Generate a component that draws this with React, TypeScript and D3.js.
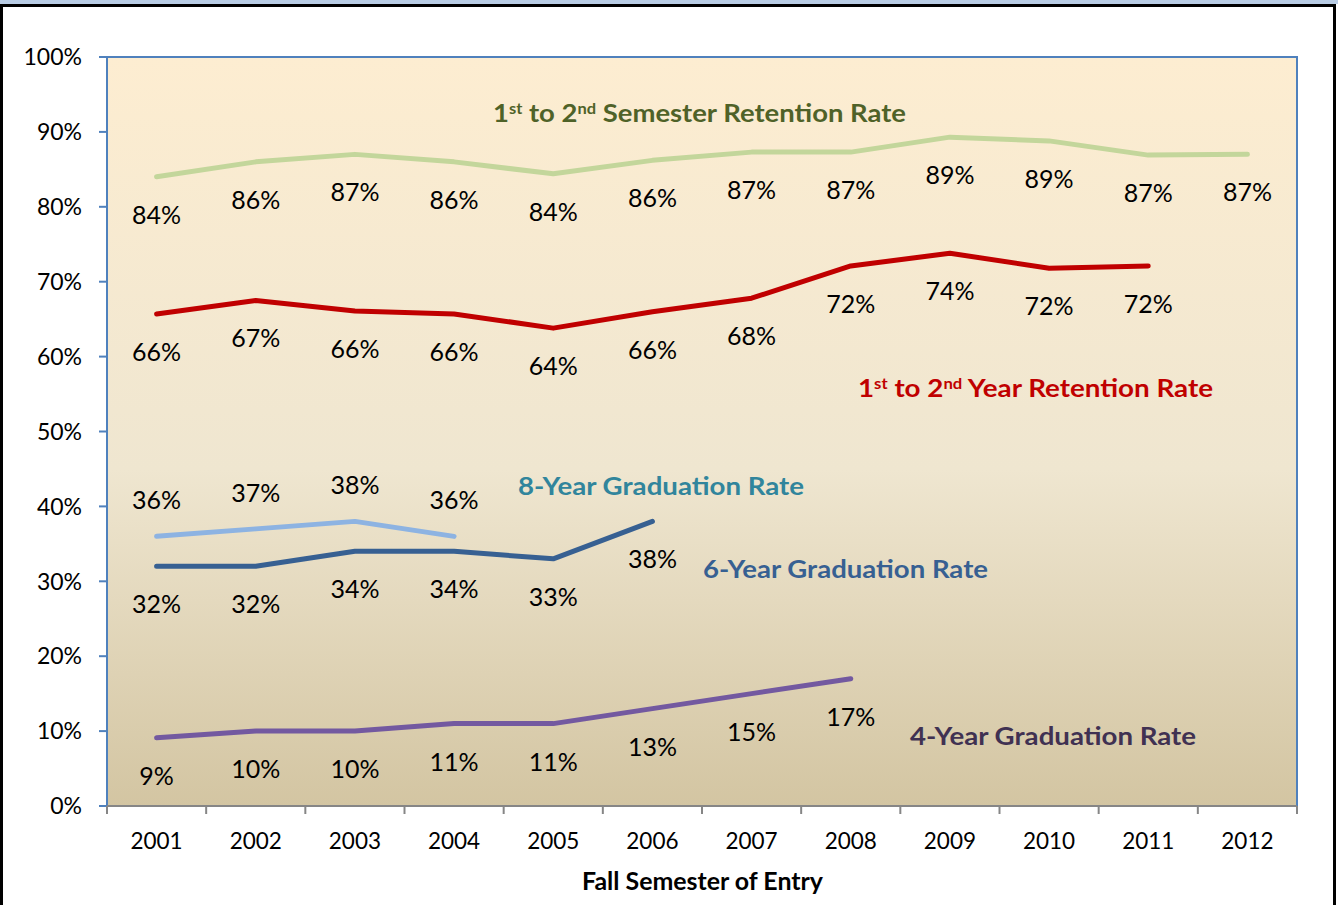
import React, { useEffect, useRef } from 'react';
import * as d3 from 'd3';

const years = ['2001', '2002', '2003', '2004', '2005', '2006', '2007', '2008', '2009', '2010', '2011', '2012'];
const yTicks = [0, 10, 20, 30, 40, 50, 60, 70, 80, 90, 100];

// values (%), null = no data
const semesterRetention = [84.0, 86.0, 87.0, 86.0, 84.4, 86.2, 87.3, 87.3, 89.3, 88.8, 86.9, 87.0];
const semesterLabels = ['84%', '86%', '87%', '86%', '84%', '86%', '87%', '87%', '89%', '89%', '87%', '87%'];
const yearRetention = [65.7, 67.5, 66.1, 65.7, 63.8, 66.0, 67.8, 72.1, 73.8, 71.8, 72.1, null];
const yearLabels = ['66%', '67%', '66%', '66%', '64%', '66%', '68%', '72%', '74%', '72%', '72%', null];
const grad8 = [36.0, 37.0, 38.0, 36.0, null, null, null, null, null, null, null, null];
const grad8Labels = ['36%', '37%', '38%', '36%', null, null, null, null, null, null, null, null];
const grad6 = [32.0, 32.0, 34.0, 34.0, 33.0, 38.0, null, null, null, null, null, null];
const grad6Labels = ['32%', '32%', '34%', '34%', '33%', '38%', null, null, null, null, null, null];
const grad4 = [9.1, 10.0, 10.0, 11.0, 11.0, 13.0, 15.0, 17.0, null, null, null, null];
const grad4Labels = ['9%', '10%', '10%', '11%', '11%', '13%', '15%', '17%', null, null, null, null];

interface Series {
   values: (number | null)[];
   labels: (string | null)[];
   color: string;
   labelOffset: number; // px from point to label centre
}

const series: Series[] = [
   { values: semesterRetention, labels: semesterLabels, color: '#c3d69b', labelOffset: 38 },
   { values: yearRetention, labels: yearLabels, color: '#c00000', labelOffset: 38 },
   { values: grad8, labels: grad8Labels, color: '#8db3e2', labelOffset: -36 },
   { values: grad6, labels: grad6Labels, color: '#376092', labelOffset: 38 },
   { values: grad4, labels: grad4Labels, color: '#7359a0', labelOffset: 38 },
];

const FONT = 'Lato, "Open Sans", sans-serif';

const App: React.FC = () => {
   const svgRef = useRef<SVGSVGElement | null>(null);
   const width = 1338;
   const height = 905;

   useEffect(() => {
      if (!svgRef.current) return;
      const svg = d3.select(svgRef.current);
      svg.selectAll('*').remove();

      const margin = { top: 57, right: 41, bottom: 99, left: 107 };
      const innerWidth = width - margin.left - margin.right;
      const innerHeight = height - margin.top - margin.bottom;

      // outer frame
      svg.append('rect').attr('width', width).attr('height', height).attr('fill', '#ffffff');
      svg.append('rect').attr('x', 0).attr('y', 0).attr('width', width).attr('height', 4).attr('fill', '#b8cce4');
      svg.append('path')
         .attr('d', `M1.5,${height} V5.5 H${width - 3.5} V${height}`)
         .attr('fill', 'none')
         .attr('stroke', '#000')
         .attr('stroke-width', 3);

      const defs = svg.append('defs');
      const bg = defs.append('linearGradient')
         .attr('id', 'plot-bg')
         .attr('x1', 0).attr('y1', 0).attr('x2', 0).attr('y2', 1);
      bg.append('stop').attr('offset', '0%').attr('stop-color', '#fdedd1');
      bg.append('stop').attr('offset', '55%').attr('stop-color', '#efe6d0');
      bg.append('stop').attr('offset', '100%').attr('stop-color', '#d3c5a2');

      const x = d3.scaleBand().domain(years).range([0, innerWidth]);
      const y = d3.scaleLinear().domain([0, 100]).range([innerHeight, 0]);

      const g = svg.append('g').attr('transform', `translate(${margin.left},${margin.top})`);

      g.append('rect')
         .attr('width', innerWidth)
         .attr('height', innerHeight)
         .attr('fill', 'url(#plot-bg)');

      // top & right border
      g.append('path')
         .attr('d', `M0,0 H${innerWidth} V${innerHeight}`)
         .attr('fill', 'none')
         .attr('stroke', '#4f81bd')
         .attr('stroke-width', 2);

      // y axis
      const yAxis = g.append('g');
      yAxis.append('line')
         .attr('x1', 0).attr('x2', 0).attr('y1', 0).attr('y2', innerHeight)
         .attr('stroke', '#4f81bd').attr('stroke-width', 2);
      yAxis.selectAll('.ytick')
         .data(yTicks)
         .enter()
         .append('line')
         .attr('x1', -8).attr('x2', 0)
         .attr('y1', d => y(d)).attr('y2', d => y(d))
         .attr('stroke', '#4f81bd').attr('stroke-width', 2);
      yAxis.selectAll('.ylab')
         .data(yTicks)
         .enter()
         .append('text')
         .attr('x', -25)
         .attr('y', d => y(d))
         .attr('dy', '0.36em')
         .attr('text-anchor', 'end')
         .attr('font-family', FONT)
         .attr('font-size', 23)
         .attr('fill', '#000')
         .text(d => `${d}%`);

      // x axis
      const xAxis = g.append('g').attr('transform', `translate(0,${innerHeight})`);
      xAxis.append('line')
         .attr('x1', 0).attr('x2', innerWidth)
         .attr('stroke', '#868686').attr('stroke-width', 2);
      const bounds = years.map(d => x(d)!).concat([innerWidth]);
      xAxis.selectAll('.xtick')
         .data(bounds)
         .enter()
         .append('line')
         .attr('x1', d => d).attr('x2', d => d)
         .attr('y1', 0).attr('y2', 8)
         .attr('stroke', '#868686').attr('stroke-width', 2);
      xAxis.selectAll('.xlab')
         .data(years)
         .enter()
         .append('text')
         .attr('x', d => x(d)! + x.bandwidth() / 2)
         .attr('y', 35)
         .attr('dy', '0.36em')
         .attr('text-anchor', 'middle')
         .attr('font-family', FONT)
         .attr('font-size', 22.5)
         .attr('fill', '#000')
         .text(d => d);

      svg.append('text')
         .attr('x', 582)
         .attr('y', 881)
         .attr('dy', '0.36em')
         .attr('font-family', FONT)
         .attr('font-weight', 'bold')
         .attr('font-size', 24)
         .attr('fill', '#000')
         .attr('textLength', 241)
         .attr('lengthAdjust', 'spacingAndGlyphs')
         .text('Fall Semester of Entry');

      // lines
      const cx = (i: number) => x(years[i])! + x.bandwidth() / 2;
      const line = d3.line<number | null>()
         .defined(d => d !== null)
         .x((_, i) => cx(i))
         .y(d => y(d as number));

      series.forEach(s => {
         g.append('path')
            .datum(s.values)
            .attr('d', line)
            .attr('fill', 'none')
            .attr('stroke', s.color)
            .attr('stroke-width', 5)
            .attr('stroke-linecap', 'round')
            .attr('stroke-linejoin', 'round');

         g.selectAll(null)
            .data(s.values.map((v, i) => ({ v, i, label: s.labels[i] })).filter(d => d.v !== null))
            .enter()
            .append('text')
            .attr('x', d => cx(d.i))
            .attr('y', d => y(d.v as number) + s.labelOffset)
            .attr('dy', '0.36em')
            .attr('text-anchor', 'middle')
            .attr('font-family', FONT)
            .attr('font-size', 25)
            .attr('fill', '#000')
            .text(d => d.label as string);
      });

      // series names
      const names = [
         { parts: [['1', ''], ['st', 'sup'], [' to 2', ''], ['nd', 'sup'], [' Semester Retention Rate', '']], x: 493, y: 113, color: '#4f6228', len: 413 },
         { parts: [['1', ''], ['st', 'sup'], [' to 2', ''], ['nd', 'sup'], [' Year Retention Rate', '']], x: 858, y: 388, color: '#c00000', len: 355 },
         { parts: [['8-Year Graduation Rate', '']], x: 518, y: 486, color: '#31859c', len: 286 },
         { parts: [['6-Year Graduation Rate', '']], x: 703, y: 569, color: '#376092', len: 285 },
         { parts: [['4-Year Graduation Rate', '']], x: 910, y: 736, color: '#403152', len: 286 },
      ];
      names.forEach(n => {
         const t = svg.append('text')
            .attr('x', n.x)
            .attr('y', n.y)
            .attr('dy', '0.36em')
            .attr('font-family', FONT)
            .attr('font-weight', 'bold')
            .attr('font-size', 25)
            .attr('fill', n.color)
            .attr('textLength', n.len)
            .attr('lengthAdjust', 'spacingAndGlyphs');
         n.parts.forEach(([txt, kind]) => {
            const span = t.append('tspan').text(txt);
            if (kind === 'sup') {
               span.attr('font-size', 15).attr('baseline-shift', '55%');
            }
         });
      });
   }, []);

   return (
      <svg
         ref={svgRef}
         width={width}
         height={height}
         style={{ position: 'absolute', left: 0, top: 0, display: 'block' }}
      />
   );
};

export default App;
